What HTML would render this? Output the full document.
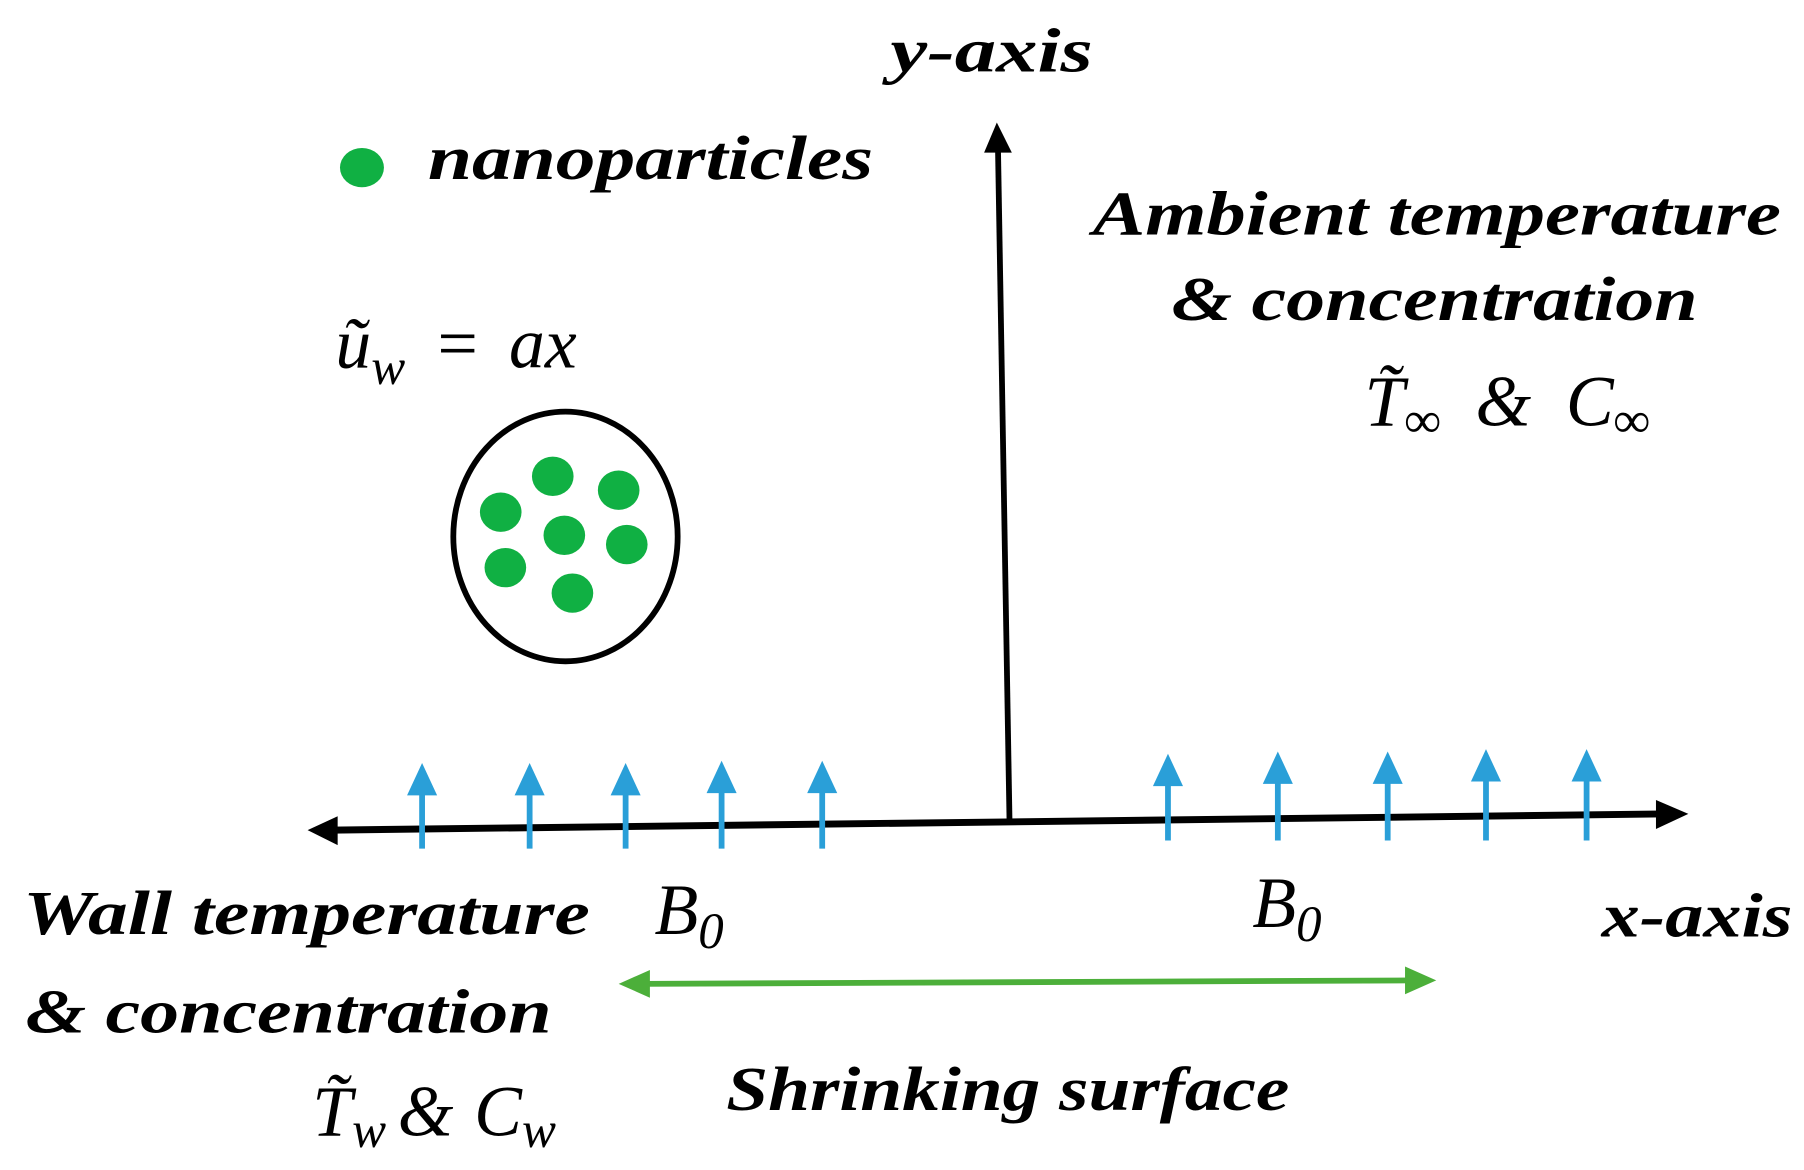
<!DOCTYPE html>
<html><head><meta charset="utf-8"><style>
html,body{margin:0;padding:0;background:#fff;}
svg{display:block;}
text{font-family:"Liberation Serif",serif;font-style:italic;fill:#000;}
.b{font-weight:bold;font-size:54px;}
.m{font-size:62px;}
</style></head><body>
<svg width="1804" height="1170" viewBox="0 0 1560 1012" preserveAspectRatio="none" xmlns="http://www.w3.org/2000/svg">
<line x1="873" y1="712" x2="863" y2="128" stroke="#000" stroke-width="5"/>
<path d="M851,132 L862,106 L875,132 z" fill="#000"/>
<line x1="288" y1="718" x2="1440" y2="704" stroke="#000" stroke-width="6"/>
<path d="M266,718 L292,706 L292,731 z" fill="#000"/>
<path d="M1460,704 L1432,692 L1432,717 z" fill="#000"/>
<g stroke="#2a9fd8" stroke-width="5" fill="#2a9fd8">
<line x1="365" y1="734" x2="365" y2="680"/><path d="M352,688 L365,660 L378,688 z" stroke="none"/>
<line x1="458" y1="734" x2="458" y2="680"/><path d="M445,688 L458,660 L471,688 z" stroke="none"/>
<line x1="541" y1="734" x2="541" y2="680"/><path d="M528,688 L541,660 L554,688 z" stroke="none"/>
<line x1="624" y1="734" x2="624" y2="680"/><path d="M611,686 L624,658 L637,686 z" stroke="none"/>
<line x1="711" y1="734" x2="711" y2="680"/><path d="M698,686 L711,658 L724,686 z" stroke="none"/>
<line x1="1010" y1="727" x2="1010" y2="672"/><path d="M997,680 L1010,652 L1023,680 z" stroke="none"/>
<line x1="1105" y1="727" x2="1105" y2="672"/><path d="M1092,678 L1105,650 L1118,678 z" stroke="none"/>
<line x1="1200" y1="727" x2="1200" y2="672"/><path d="M1187,678 L1200,650 L1213,678 z" stroke="none"/>
<line x1="1285" y1="727" x2="1285" y2="670"/><path d="M1272,676 L1285,648 L1298,676 z" stroke="none"/>
<line x1="1372" y1="727" x2="1372" y2="670"/><path d="M1359,676 L1372,648 L1385,676 z" stroke="none"/>
</g>
<line x1="555" y1="851" x2="1222" y2="848" stroke="#4caf3a" stroke-width="5"/>
<path d="M535,851 L562,839 L562,863 z" fill="#4caf3a"/>
<path d="M1242,848 L1215,836 L1215,860 z" fill="#4caf3a"/>
<ellipse cx="489" cy="464" rx="97" ry="108" fill="none" stroke="#000" stroke-width="5"/>
<g fill="#10b043">
<ellipse cx="478" cy="412" rx="18" ry="17"/>
<ellipse cx="535" cy="424" rx="18" ry="17"/>
<ellipse cx="433" cy="443" rx="18" ry="17"/>
<ellipse cx="488" cy="463" rx="18" ry="17"/>
<ellipse cx="542" cy="471" rx="18" ry="17"/>
<ellipse cx="437" cy="491" rx="18" ry="17"/>
<ellipse cx="495" cy="513" rx="18" ry="17"/>
<ellipse cx="313" cy="145" rx="19" ry="17"/>
</g>
<text class="b" x="770" y="62" textLength="175" lengthAdjust="spacingAndGlyphs">y-axis</text>
<text class="b" x="370" y="155" textLength="385" lengthAdjust="spacingAndGlyphs">nanoparticles</text>
<text class="b" x="945" y="203" textLength="595" lengthAdjust="spacingAndGlyphs">Ambient temperature</text>
<text class="b" x="1013" y="277" textLength="455" lengthAdjust="spacingAndGlyphs">&amp; concentration</text>
<text class="m" x="1180" y="368">T̃<tspan font-size="44" dy="10">∞</tspan><tspan dy="-10" dx="30">&amp;</tspan><tspan dx="30">C</tspan><tspan font-size="44" dy="10">∞</tspan></text>
<text class="m" x="290" y="318">ũ<tspan font-size="44" dy="14">w</tspan><tspan dy="-14" dx="24">=</tspan><tspan dx="24">ax</tspan></text>
<text class="b" x="20" y="808" textLength="490" lengthAdjust="spacingAndGlyphs">Wall temperature</text>
<text class="b" x="22" y="893" textLength="455" lengthAdjust="spacingAndGlyphs">&amp; concentration</text>
<text class="m" x="270" y="982">T̃<tspan font-size="44" dy="10">w</tspan><tspan dy="-10" dx="10">&amp;</tspan><tspan dx="18">C</tspan><tspan font-size="44" dy="10">w</tspan></text>
<text class="m" x="566" y="808">B<tspan font-size="44" dy="12">0</tspan></text>
<text class="m" x="1083" y="802">B<tspan font-size="44" dy="12">0</tspan></text>
<text class="b" x="1385" y="810" textLength="165" lengthAdjust="spacingAndGlyphs">x-axis</text>
<text class="b" x="628" y="960" textLength="487" lengthAdjust="spacingAndGlyphs">Shrinking surface</text>
</svg>
</body></html>
